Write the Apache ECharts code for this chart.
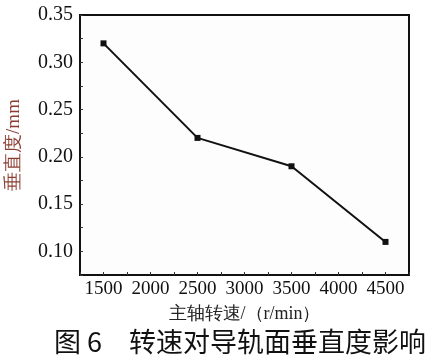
<!DOCTYPE html>
<html>
<head>
<meta charset="utf-8">
<script src="https://cdn.jsdelivr.net/npm/echarts@6/dist/echarts.min.js"></script>
<style>html,body{margin:0;padding:0;background:#fff;}#c{width:438px;height:363px;}</style>
</head>
<body>
<div id="c"></div>
<script>
const speeds = [1500, 2500, 3500, 4500];
const verticality = [0.32, 0.22, 0.19, 0.11];
const xTickLabels = [1500, 2000, 2500, 3000, 3500, 4000, 4500];
const yTickLabels = [0.10, 0.15, 0.20, 0.25, 0.30, 0.35];
const xName = '主轴转速/（r/min）';
const yName = '垂直度/mm';
const captionLeft = '图 6';
const captionRight = '转速对导轨面垂直度影响';

const serif = '"Liberation Serif", "Times New Roman", serif';
const chart = echarts.init(document.getElementById('c'), null, {renderer: 'canvas'});
chart.setOption({
  animation: false,
  backgroundColor: '#fff',
  grid: {left: 80, right: 29, top: 15, bottom: 88, outerBoundsMode: 'none', containLabel: false,
         show: true, borderColor: '#111', borderWidth: 2, backgroundColor: '#fdfdfd'},
  xAxis: {
    type: 'value', min: 1250, max: 4750, interval: 250,
    axisLine: {lineStyle: {color: '#111', width: 2}},
    axisTick: {inside: true, length: 3, lineStyle: {color: '#333', width: 1}},
    axisLabel: {
      color: '#111', fontFamily: serif, fontSize: 19, margin: 5,
      formatter: v => xTickLabels.indexOf(Math.round(v)) >= 0 ? String(Math.round(v)) : ''
    },
    splitLine: {show: false},
    name: xName, nameLocation: 'middle', nameGap: 30,
    nameTextStyle: {color: '#222', fontFamily: serif, fontSize: 18}
  },
  yAxis: {
    type: 'value', min: 0.075, max: 0.35, interval: 0.025,
    axisLine: {lineStyle: {color: '#111', width: 2}},
    axisTick: {inside: true, length: 3, lineStyle: {color: '#333', width: 1}},
    axisLabel: {
      color: '#111', fontFamily: serif, fontSize: 20, margin: 7,
      formatter: v => {
        const r = Math.round(v * 1000);
        return yTickLabels.some(t => Math.round(t * 1000) === r) ? (r / 1000).toFixed(2) : '';
      }
    },
    splitLine: {show: false},
    name: yName, nameLocation: 'middle', nameGap: 56, nameRotate: 90,
    nameTextStyle: {color: '#8a3c30', fontFamily: serif, fontSize: 19}
  },
  series: [{
    type: 'line',
    data: speeds.map((s, i) => [s, verticality[i]]),
    symbol: 'rect', symbolSize: 6,
    lineStyle: {color: '#111', width: 2},
    itemStyle: {color: '#111'}
  }],
  graphic: [
    {type: 'text', left: 54, top: 328, style: {text: captionLeft, font: '27px "Noto Sans CJK SC", sans-serif', fill: '#111'}},
    {type: 'text', left: 129, top: 328, style: {text: captionRight, font: '27px "Noto Sans CJK SC", sans-serif', fill: '#111'}}
  ]
});
</script>
</body>
</html>
